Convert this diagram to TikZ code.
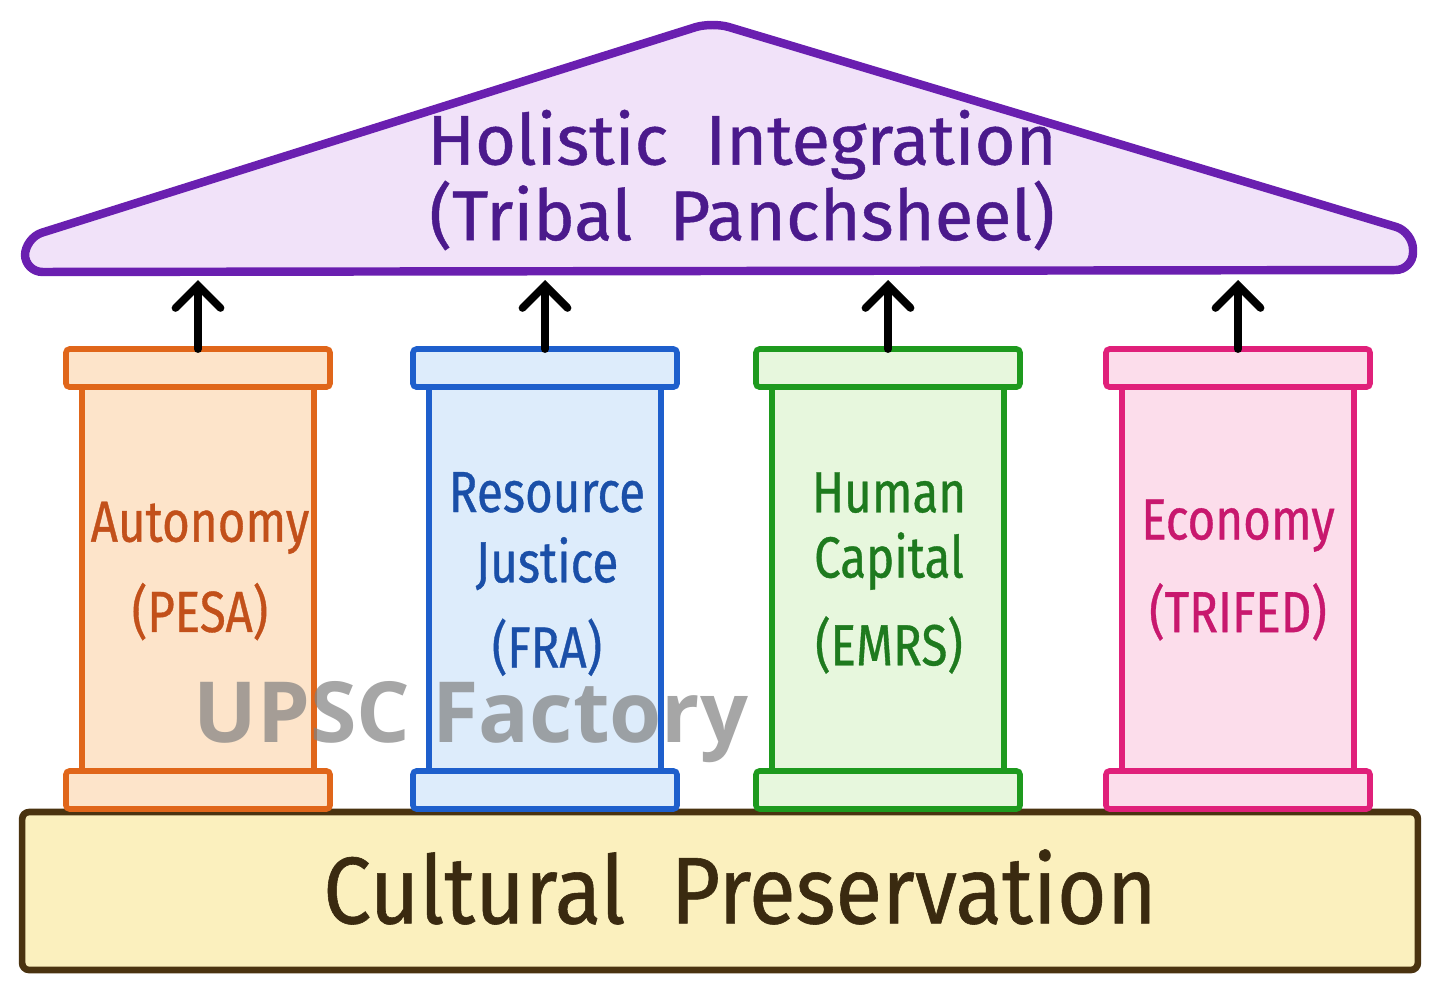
\documentclass[tikz,border=0pt]{standalone}
\usepackage{fontspec}
\setmainfont{Fira Sans}[FakeStretch=0.82, FakeBold=0.6]
\newfontfamily\rooffont{Fira Sans}[FakeBold=0.6]
\newfontfamily\fndfont{Fira Sans}[FakeStretch=0.9, FakeBold=0.6]
\newfontfamily\markfont{Open Sans}
\usetikzlibrary{arrows.meta,positioning}

\definecolor{roofline}{HTML}{6A1FB0}
\definecolor{rooffill}{HTML}{F1E2F9}
\definecolor{rooftext}{HTML}{4B1A8C}
\definecolor{orgline}{HTML}{E0661A}
\definecolor{orgfill}{HTML}{FDE4CA}
\definecolor{orgtext}{HTML}{C2501A}
\definecolor{blueline}{HTML}{1E5FCC}
\definecolor{bluefill}{HTML}{DDECFB}
\definecolor{bluetext}{HTML}{1A4FA8}
\definecolor{grnline}{HTML}{1E9A1E}
\definecolor{grnfill}{HTML}{E7F7DD}
\definecolor{grntext}{HTML}{1E7A1E}
\definecolor{pinkline}{HTML}{E0207A}
\definecolor{pinkfill}{HTML}{FCDDEB}
\definecolor{pinktext}{HTML}{C8186E}
\definecolor{fndline}{HTML}{4A3310}
\definecolor{fndfill}{HTML}{FBF0BE}
\definecolor{fndtext}{HTML}{3A2A10}

\begin{document}
\begin{tikzpicture}[
    x=0.02cm, y=-0.02cm,
    shaft/.style={rectangle, draw, line width=3.2pt, inner sep=0pt, outer sep=0pt,
                  minimum width=4.64cm, minimum height=7.68cm},
    capital/.style={rectangle, draw, line width=3.2pt, rounded corners=2pt, inner sep=0pt,
                    outer sep=0pt, minimum width=5.28cm, minimum height=0.76cm},
    label/.style={align=center, font=\fontsize{33}{40}\selectfont},
    arrow/.style={-{Straight Barb[length=0.45cm, width=0.9cm, line cap=round]},
                  line width=4.4pt, line cap=round}
  ]
  \useasboundingbox (0,0) rectangle (1442,994);

  % ---- Foundation ----
  \node[rectangle, draw=fndline, fill=fndfill, line width=3.8pt, rounded corners=4pt,
        minimum width=27.92cm, minimum height=3.16cm] (found) at (720,891) {};
  \node[text=fndtext, font=\fndfont\fontsize{54}{58}\selectfont] (fndlabel) at (740,887)
    {Cultural\ \ Preservation};

  % ---- Roof ----
  \draw[draw=roofline, fill=rooffill, line width=4.8pt, rounded corners=10pt]
    (25,272) -- (25,238) -- (712,22) -- (1413,232) -- (1413,270) -- cycle;
  \node[align=center, text=rooftext, font=\rooffont\fontsize{40}{43}\selectfont] (roof) at (742,180)
    {Holistic\ \ Integration\\(Tribal\ \ Panchsheel)};
  \coordinate (roofbase) at (0,280);

  % ---- Pillar: Autonomy ----
  \node[shaft, draw=orgline, fill=orgfill] (shaftA) at (198,579) {};
  \node[capital, draw=orgline, fill=orgfill, above=0pt of shaftA] (capA) {};
  \node[capital, draw=orgline, fill=orgfill, below=0pt of shaftA] (footA) {};
  \node[label, text=orgtext] (textA) at (200,571) {Autonomy\\[0.4cm](PESA)};

  % ---- Pillar: Resource Justice ----
  \node[shaft, draw=blueline, fill=bluefill] (shaftB) at (545,579) {};
  \node[capital, draw=blueline, fill=bluefill, above=0pt of shaftB] (capB) {};
  \node[capital, draw=blueline, fill=bluefill, below=0pt of shaftB] (footB) {};
  \node[label, text=bluetext] (textB) at (547,574) {Resource\\Justice\\[0.3cm](FRA)};

  % ---- Pillar: Human Capital ----
  \node[shaft, draw=grnline, fill=grnfill] (shaftC) at (888,579) {};
  \node[capital, draw=grnline, fill=grnfill, above=0pt of shaftC] (capC) {};
  \node[capital, draw=grnline, fill=grnfill, below=0pt of shaftC] (footC) {};
  \node[label, text=grntext] (textC) at (889,573) {Human\\[-0.1cm]Capital\\[0.35cm](EMRS)};

  % ---- Pillar: Economy ----
  \node[shaft, draw=pinkline, fill=pinkfill] (shaftD) at (1238,579) {};
  \node[capital, draw=pinkline, fill=pinkfill, above=0pt of shaftD] (capD) {};
  \node[capital, draw=pinkline, fill=pinkfill, below=0pt of shaftD] (footD) {};
  \node[label, text=pinktext] (textD) at (1238,570) {Economy\\[0.45cm](TRIFED)};

  % ---- Arrows ----
  \draw[arrow] (capA.north) -- (capA.north |- roofbase);
  \draw[arrow] (capB.north) -- (capB.north |- roofbase);
  \draw[arrow] (capC.north) -- (capC.north |- roofbase);
  \draw[arrow] (capD.north) -- (capD.north |- roofbase);

  % ---- Watermark ----
  \node[text=gray, opacity=0.7, inner sep=0pt, font=\markfont\bfseries\fontsize{48}{52}\selectfont] (mark) at (471,722) {UPSC Factory};
\end{tikzpicture}
\end{document}
